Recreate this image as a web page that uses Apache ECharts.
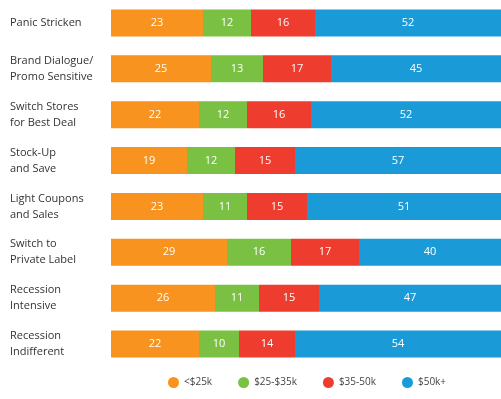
<!DOCTYPE html>
<html>
<head>
<meta charset="utf-8">
<script src="https://cdn.jsdelivr.net/npm/echarts@6/dist/echarts.min.js"></script>
<style>html,body{margin:0;padding:0;background:#fff;}#c{width:501px;height:399px;}</style>
</head>
<body>
<div id="c"></div>
<script>
var categories = ["Panic Stricken", "Brand Dialogue/\nPromo Sensitive", "Switch Stores\nfor Best Deal", "Stock-Up\nand Save", "Light Coupons\nand Sales", "Switch to\nPrivate Label", "Recession\nIntensive", "Recession\nIndifferent"];
var seriesNames = ["<$25k", "$25-$35k", "$35-50k", "$50k+"];
var under25 = [23, 25, 22, 19, 23, 29, 26, 22];
var from25to35 = [12, 13, 12, 12, 11, 16, 11, 10];
var from35to50 = [16, 17, 16, 15, 15, 17, 15, 14];
var over50 = [52, 45, 52, 57, 51, 40, 47, 54];
var colors = ["#F7931E", "#7AC143", "#EE3D2E", "#1A9BD7"];

var allData = [under25, from25to35, from35to50, over50];
var chart = echarts.init(document.getElementById('c'), null, {renderer: 'canvas'});
chart.setOption({
  animation: false,
  color: colors,
  grid: {left: 111, top: -2, right: 0, height: 369, containLabel: false},
  xAxis: {type: 'value', min: 0, max: 97.5, show: false},
  yAxis: {
    type: 'category', data: categories, inverse: true,
    axisLine: {show: false}, axisTick: {show: false},
    axisLabel: {align: 'left', margin: 101, color: '#333', fontSize: 11, lineHeight: 16, fontFamily: 'Open Sans, sans-serif'}
  },
  legend: {
    bottom: 6, left: 163, icon: 'circle', itemWidth: 11, itemHeight: 11, itemGap: 26,
    textStyle: {color: '#444', fontSize: 10, fontFamily: 'Open Sans, sans-serif'},
    data: seriesNames
  },
  series: seriesNames.map(function (n, i) {
    return {
      name: n, type: 'bar', stack: 'all', barWidth: 27,
      data: allData[i],
      itemStyle: {color: colors[i]},
      label: {show: true, position: 'inside', color: '#fff', fontSize: 11, fontFamily: 'Open Sans, sans-serif'}
    };
  })
});
</script>
</body>
</html>
